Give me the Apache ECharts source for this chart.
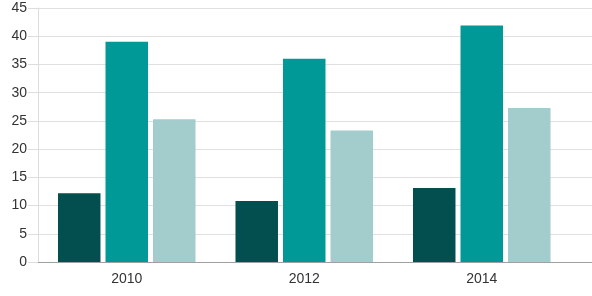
<!DOCTYPE html>
<html>
<head>
<meta charset="utf-8">
<script src="https://cdn.jsdelivr.net/npm/echarts@6/dist/echarts.min.js"></script>
<style>
  html, body { margin: 0; padding: 0; background: #ffffff; }
  #chart { width: 592px; height: 296px; }
</style>
</head>
<body>
<div id="chart"></div>
<script>
const categories = ['2010', '2012', '2014'];
const seriesDark = [12.2, 10.8, 13.1];
const seriesTeal = [39.0, 36.0, 41.9];
const seriesLight = [25.3, 23.3, 27.3];
const yTicks = [0, 5, 10, 15, 20, 25, 30, 35, 40, 45];

const yMin = yTicks[0];
const yMax = yTicks[yTicks.length - 1];
const yStep = yTicks[1] - yTicks[0];
const font = 'Liberation Sans, Arial, sans-serif';

const chart = echarts.init(document.getElementById('chart'), null, { renderer: 'canvas' });
const bar = (name, data, color) => ({
  name, type: 'bar', data, xAxisIndex: 0, yAxisIndex: 0,
  barWidth: 42.5, barGap: '11.8%',
  itemStyle: { color },
  z: 3
});
chart.setOption({
  animation: false,
  backgroundColor: '#ffffff',
  grid: [
    { left: 38, right: 21.5, top: 8, bottom: 34, containLabel: false },
    { left: 38, right: 0, top: 8, bottom: 34, containLabel: false }
  ],
  xAxis: [
    {
      type: 'category', gridIndex: 0, data: categories,
      axisLine: { show: false }, axisTick: { show: false },
      axisLabel: { color: '#333333', fontFamily: font, fontSize: 14, margin: 10 },
      splitLine: { show: false }
    },
    {
      type: 'category', gridIndex: 1, data: categories,
      axisLine: { show: true, lineStyle: { color: '#a0a0a0', width: 1 } },
      axisTick: { show: false }, axisLabel: { show: false }, splitLine: { show: false }
    }
  ],
  yAxis: [
    {
      type: 'value', gridIndex: 0, min: yMin, max: yMax, interval: yStep,
      show: false, splitLine: { show: false }
    },
    {
      type: 'value', gridIndex: 1, min: yMin, max: yMax, interval: yStep,
      axisLine: { show: true, lineStyle: { color: '#dddddd' } },
      axisTick: { show: true, length: 10, lineStyle: { color: '#dddddd' } },
      axisLabel: { color: '#333333', fontFamily: font, fontSize: 14, margin: 11 },
      splitLine: { show: true, lineStyle: { color: '#e0e0e0', width: 1 } }
    }
  ],
  series: [
    bar('A', seriesDark, '#034f4f'),
    bar('B', seriesTeal, '#009997'),
    bar('C', seriesLight, '#a2cdcc')
  ]
});
</script>
</body>
</html>
